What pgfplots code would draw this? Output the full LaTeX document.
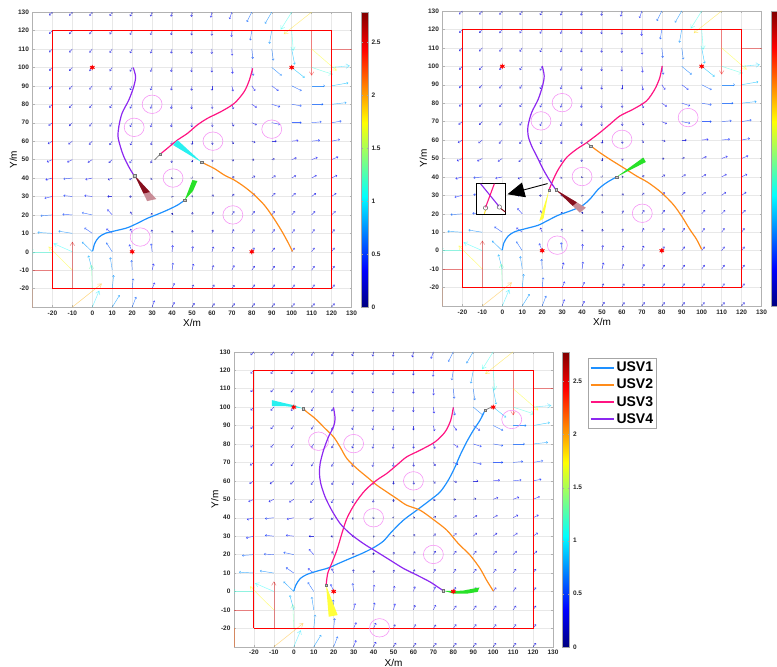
\documentclass[border=0pt]{standalone}
\usepackage{pgfplots}
\pgfplotsset{compat=1.18}
\usepackage{pgfplotstable}
\usepackage{fontspec}
\setmainfont{Liberation Sans}
\usetikzlibrary{arrows.meta}

\definecolor{usvA}{RGB}{30,144,255}
\definecolor{usvB}{RGB}{255,140,26}
\definecolor{usvC}{RGB}{255,20,130}
\definecolor{usvD}{RGB}{140,40,240}
\definecolor{obst}{RGB}{245,150,245}
\definecolor{fanred}{RGB}{135,15,30}
\definecolor{fanredl}{RGB}{200,140,150}
\definecolor{fangreen}{RGB}{40,225,40}
\definecolor{fanyellow}{RGB}{255,255,60}
\definecolor{fancyan}{RGB}{40,240,240}

\newcommand{\tlfont}{\fontsize{6.5}{7}\selectfont\bfseries}
\newcommand{\lbfont}{\fontsize{8.5}{10}\selectfont\bfseries}

\pgfplotstableread{
x y u v c
-20 130 -1.7 -1.8 0.25
-10 130 -1.6 -1.9 0.25
0 130 -1.5 -2.0 0.25
10 130 -1.3 -2.1 0.25
20 130 -1.1 -2.3 0.25
30 130 -0.8 -2.4 0.25
40 130 -0.5 -2.5 0.26
50 130 -0.3 -2.6 0.26
60 130 -0.6 -3.0 0.31
70 130 -1.2 -3.8 0.40
80 130 -2.5 -5.4 0.60
90 130 -3.4 -6.3 0.72
-20 120 -1.7 -1.8 0.25
-10 120 -1.6 -1.9 0.25
0 120 -1.5 -2.0 0.25
10 120 -1.3 -2.1 0.25
20 120 -1.1 -2.3 0.25
30 120 -0.8 -2.4 0.25
40 120 -0.5 -2.5 0.26
50 120 -0.3 -2.6 0.26
60 120 -0.1 -2.8 0.28
70 120 -0.2 -3.5 0.35
80 120 -0.8 -5.4 0.55
90 120 -1.2 -7.2 0.73
-20 110 -1.7 -1.8 0.25
-10 110 -1.6 -1.9 0.25
0 110 -1.5 -2.0 0.25
10 110 -1.3 -2.1 0.25
20 110 -1.1 -2.3 0.25
30 110 -0.8 -2.4 0.25
40 110 -0.5 -2.5 0.26
50 110 -0.3 -2.6 0.26
60 110 -0.1 -2.7 0.27
70 110 0.1 -3.6 0.36
80 110 0.5 -5.4 0.54
90 110 0.8 -6.3 0.64
100 110 1.5 -8.5 0.86
-20 100 -1.7 -1.8 0.25
-10 100 -1.6 -1.9 0.25
0 100 -1.5 -2.0 0.25
10 100 -1.3 -2.1 0.25
20 100 -1.1 -2.3 0.25
30 100 -0.8 -2.4 0.25
40 100 -0.5 -2.5 0.26
50 100 -0.3 -2.6 0.26
60 100 -0.1 -2.7 0.27
70 100 0.4 -3.4 0.34
80 100 0.8 -4.5 0.46
90 100 5.0 -4.5 0.67
100 100 6.5 -5.6 0.86
-20 90 -1.7 -1.8 0.25
-10 90 -1.6 -1.9 0.25
0 90 -1.5 -2.0 0.25
10 90 -1.3 -2.1 0.25
20 90 -1.1 -2.3 0.25
30 90 -0.8 -2.4 0.25
40 90 -0.5 -2.5 0.26
50 90 -0.3 -2.6 0.26
60 90 0.0 -2.6 0.26
70 90 0.6 -3.0 0.31
80 90 1.7 -2.7 0.32
90 90 3.4 -2.7 0.43
100 90 5.0 -2.7 0.57
110 90 6.7 0.0 0.67
120 90 8.4 1.6 0.86
-20 80 -1.7 -1.8 0.25
-10 80 -1.6 -1.9 0.25
0 80 -1.5 -2.0 0.25
10 80 -1.3 -2.1 0.25
20 80 -1.1 -2.3 0.25
30 80 -0.8 -2.4 0.25
40 80 -0.5 -2.5 0.26
50 80 -0.3 -2.6 0.26
60 80 0.1 -2.5 0.25
70 80 0.8 -2.6 0.27
80 80 2.5 -1.8 0.31
90 80 4.2 -1.4 0.44
100 80 5.0 -0.9 0.51
110 80 5.9 0.0 0.59
120 80 7.5 0.9 0.76
-20 70 -2.0 -1.6 0.26
-10 70 -1.7 -1.8 0.25
0 70 -1.5 -2.0 0.25
10 70 -1.3 -2.1 0.25
20 70 -1.1 -2.3 0.25
30 70 -0.8 -2.4 0.25
40 70 -0.5 -2.4 0.25
50 70 -0.2 -2.4 0.24
60 70 0.2 -2.3 0.23
70 70 1.0 -2.0 0.22
80 70 2.5 -1.2 0.28
90 70 4.2 -0.9 0.43
100 70 5.0 0.0 0.50
110 70 5.0 0.5 0.50
120 70 5.0 0.9 0.51
-20 60 -2.3 -1.5 0.27
-10 60 -2.0 -1.7 0.26
0 60 -1.7 -1.9 0.25
10 60 -1.4 -2.1 0.25
20 60 -1.0 -2.2 0.24
30 60 -0.6 -2.2 0.23
40 60 -0.3 -2.1 0.21
50 60 0.0 -2.0 0.20
60 60 0.3 -2.0 0.20
70 60 1.0 -1.5 0.18
80 60 1.8 -0.8 0.20
90 60 2.5 0.0 0.25
100 60 3.4 0.4 0.34
110 60 4.2 0.5 0.42
120 60 4.2 0.9 0.43
-20 50 -2.8 -1.3 0.31
-10 50 -2.6 -1.4 0.30
0 50 -2.3 -1.6 0.28
10 50 -1.8 -1.8 0.25
20 50 -1.3 -2.0 0.24
30 50 -0.7 -2.0 0.21
40 50 -0.3 -1.8 0.18
50 50 0.0 -1.5 0.15
60 50 0.5 -1.2 0.13
70 50 1.0 -0.8 0.13
80 50 1.3 -0.2 0.13
90 50 1.5 0.5 0.16
100 50 2.5 1.0 0.27
110 50 3.0 1.2 0.32
120 50 3.4 1.5 0.37
-20 40 -3.5 -1.0 0.36
-10 40 -4.5 -0.5 0.45
0 40 -3.5 -0.8 0.36
10 40 -2.2 -1.0 0.24
20 40 -1.4 -1.0 0.17
30 40 -0.8 -0.9 0.12
40 40 -0.3 -0.6 0.07
50 40 0.2 -0.3 0.04
60 40 0.8 0.2 0.08
70 40 1.3 0.8 0.15
80 40 1.7 1.2 0.21
90 40 2.0 1.3 0.24
100 40 2.2 1.4 0.26
110 40 2.5 1.5 0.29
120 40 2.8 1.5 0.32
-20 30 -4.0 -1.0 0.41
-10 30 -4.5 0.5 0.45
0 30 -4.0 0.5 0.40
10 30 -2.5 0.0 0.25
20 30 -1.5 -0.2 0.15
30 30 -0.8 -0.2 0.08
40 30 -0.2 0.3 0.04
50 30 0.3 0.6 0.07
60 30 0.8 1.0 0.13
70 30 1.2 1.4 0.18
80 30 1.6 1.6 0.23
90 30 1.8 1.8 0.25
100 30 2.0 1.8 0.27
110 30 2.2 1.8 0.28
120 30 2.4 1.8 0.30
-20 20 -6.0 -0.5 0.60
-10 20 -5.0 0.3 0.50
0 20 -5.2 1.2 0.53
10 20 -2.5 3.0 0.39
20 20 -1.0 1.8 0.21
30 20 -0.5 1.0 0.11
40 20 0.0 1.2 0.12
50 20 0.3 1.5 0.15
60 20 0.8 1.8 0.20
70 20 1.2 2.0 0.23
80 20 1.5 2.0 0.25
90 20 1.6 2.0 0.26
100 20 1.7 2.0 0.26
110 20 1.8 2.0 0.27
120 20 2.0 2.0 0.28
-20 10 -7.5 0.5 0.75
-10 10 -7.0 1.2 0.71
0 10 -4.0 3.0 0.50
10 10 -3.0 2.5 0.39
20 10 -1.0 2.5 0.27
30 10 -0.2 2.0 0.20
40 10 0.2 1.5 0.15
50 10 0.3 1.8 0.18
60 10 0.6 2.0 0.21
70 10 1.0 2.2 0.24
80 10 1.3 2.2 0.26
90 10 1.5 2.2 0.27
100 10 1.5 2.2 0.27
110 10 1.5 2.2 0.27
120 10 1.5 2.2 0.27
0 0 -5.2 5.4 0.75
10 0 -3.0 5.0 0.58
20 0 -1.5 4.0 0.43
30 0 -0.5 4.5 0.45
40 0 0.3 3.6 0.36
50 0 0.5 3.0 0.30
60 0 0.8 2.8 0.29
70 0 1.0 2.7 0.29
80 0 1.3 2.3 0.26
90 0 1.5 2.2 0.27
100 0 1.5 2.2 0.27
110 0 1.5 2.2 0.27
120 0 1.5 2.2 0.27
0 -10 -2.0 8.0 0.82
10 -10 -1.0 7.0 0.71
20 -10 -0.3 5.5 0.55
30 -10 0.8 3.6 0.37
40 -10 0.5 4.0 0.40
50 -10 0.8 3.5 0.36
60 -10 0.8 2.7 0.28
70 -10 1.2 2.7 0.30
80 -10 1.5 2.3 0.27
90 -10 1.5 2.3 0.27
100 -10 1.5 2.3 0.27
110 -10 1.5 2.3 0.27
120 -10 1.5 2.3 0.27
10 -20 0.7 7.4 0.74
20 -20 0.5 5.5 0.55
30 -20 1.3 3.3 0.35
40 -20 1.2 3.0 0.32
50 -20 0.8 2.2 0.23
60 -20 1.2 2.2 0.25
70 -20 1.3 2.0 0.24
80 -20 1.5 2.2 0.27
90 -20 1.5 2.2 0.27
100 -20 1.5 2.2 0.27
110 -20 1.5 2.2 0.27
120 -20 1.5 2.2 0.27
10 -30 3.7 6.5 0.75
20 -30 2.0 5.6 0.59
30 -30 1.2 3.6 0.38
40 -30 1.2 2.7 0.30
50 -30 1.3 2.2 0.26
60 -30 1.3 2.0 0.24
70 -30 1.5 2.0 0.25
80 -30 1.5 2.0 0.25
90 -30 1.5 2.0 0.25
100 -30 1.5 2.0 0.25
110 -30 1.5 2.0 0.25
120 -30 1.5 2.0 0.25
}\fieldsmall

\pgfplotstableread{
x y u v c
100 130 -5.5 -9.5 1.10
110 130 -14.0 -12.0 1.84
100 120 0.8 -11.0 1.10
110 120 0.0 -24.5 2.45
110 110 12.6 -11.8 1.73
120 110 25.0 0.0 2.50
110 100 10.7 -3.8 1.14
120 100 9.2 0.9 0.92
-20 0 -11.5 0.0 1.15
-10 0 -9.5 4.5 1.05
-20 -10 -25.0 0.0 2.50
-10 -10 -12.0 12.8 1.75
-30 -20 0.0 -22.0 2.20
-10 -20 0.0 25.5 2.55
0 -20 -0.5 13.0 1.30
-10 -30 14.8 12.8 1.96
0 -30 3.5 9.0 0.97
}\fieldbig

\pgfplotsset{
  /pgf/number format/assume math mode=true,
  colorbar shift/.style={xshift=9.5pt},
  usvaxis/.style={
    scale only axis, width=319pt, height=295pt, anchor=south west,
    xmin=-30, xmax=130, ymin=-30, ymax=130,
    xtick={-20,-10,...,130}, ytick={-20,-10,...,130},
    grid=major, grid style={gray!18, line width=0.4pt},
    axis line style={gray!60}, tick style={gray!60, line width=0.4pt},
    tick align=inside, major tick length=2pt,
    ticklabel style={font=\tlfont, text=black!85},
    xlabel={X/m}, ylabel={Y/m},
    label style={font=\lbfont},
    every axis x label/.style={at={(axis description cs:0.5,-0.053)}, anchor=center},
    every axis y label/.style={at={(axis description cs:-0.06,0.5)}, anchor=center, rotate=90},
    colormap/jet, point meta min=0, point meta max=2.78,
    colorbar,
    colorbar style={
      scale only axis, width=7pt, height=295pt,
      at={(parent axis.north east)}, anchor=north west,
      ytick={0,0.5,1,1.5,2,2.5},
      yticklabel style={font=\tlfont, text=black!85},
      axis line style={gray!70}, tick style={gray!70}, major tick length=1.5pt,
    },
  },
  pathstyle/.style={line width=1.2pt, smooth},
}

\newcommand{\fieldlayers}{%
  \addplot[forget plot, quiver={u=\thisrow{u},v=\thisrow{v},colored}, point meta=\thisrow{c},
    -{Straight Barb[length=1.3pt,width=2.2pt]}, line width=0.45pt, opacity=0.7] table[x=x,y=y] \fieldsmall;
  \addplot[forget plot, quiver={u=\thisrow{u},v=\thisrow{v},colored}, point meta=\thisrow{c},
    -{Straight Barb[length=3.5pt,width=4.5pt]}, line width=0.55pt, opacity=0.45] table[x=x,y=y] \fieldbig;
  \addplot[forget plot, red, line width=1.1pt] coordinates {(-20,-20) (120,-20) (120,120) (-20,120) (-20,-20)};
}
\newcommand{\starlayer}{%
  \addplot[forget plot, only marks, red, mark=asterisk, mark size=2.6pt, line width=0.8pt] coordinates {(0,100) (100,100) (20,0) (80,0)};
  \addplot[forget plot, only marks, red, mark=*, mark size=1.5pt] coordinates {(0,100) (100,100) (20,0) (80,0)};
}
\newcommand{\obs}[2]{\draw[obst, line width=0.6pt] (axis cs:#1,#2) ellipse [x radius=5, y radius=5];}
\newcommand{\finalmarks}[1]{%
  \addplot[forget plot, only marks, mark=square*, mark size=1.2pt, mark options={fill=gray!45, draw=gray!90!black, line width=0.3pt}] coordinates {#1};
}

\begin{document}
\begin{tikzpicture}[x=1pt,y=1pt]
\useasboundingbox (0,0) rectangle (777,667);

% ---------------- top-left ----------------
\begin{axis}[usvaxis, at={(32.5pt,359.9pt)}]
  \fieldlayers
  \obs{30}{80}\obs{21}{67.5}\obs{40.5}{40}\obs{60.5}{60}\obs{90}{66.5}\obs{70.5}{20}\obs{24}{8}
  \starlayer
  \addplot[forget plot, usvA, pathstyle] coordinates {(0.2,0.4) (1.2,4.5) (3.2,7.8) (6.5,10) (11.6,11.4) (17.5,13) (22.5,15.4) (27.5,18.1) (32.6,20.3) (37.6,22.6) (42.7,25.3) (46.3,28)};
  \addplot[forget plot, usvB, pathstyle] coordinates {(100.4,0.2) (98,5.4) (94.7,11.8) (90.5,19) (86.3,25.3) (81.3,30.8) (76.2,35.3) (71.2,38.9) (66.2,41.6) (61.1,45.2) (54.9,48.5)};
  \addplot[forget plot, usvC, pathstyle] coordinates {(80.4,99.5) (78.8,93.2) (76.2,86.9) (71.2,80.5) (64.5,76) (57.8,72.4) (52.7,68.8) (47.7,64.2) (42.7,60.6) (37.6,56.1) (33.9,52.8)};
  \addplot[forget plot, usvD, pathstyle] coordinates {(20.5,99.9) (21.7,95) (20.8,89.6) (18.3,82.3) (14.9,75.1) (13.3,67.9) (12.9,62.4) (14.1,57) (15.8,51.6) (18.3,46.1) (20.8,41.6) (21.3,41.3)};
  \addplot[forget plot, gray, line width=0.8pt] coordinates {(33.9,52.8) (31.2,49.8)};
  \addplot[forget plot, fill=fanredl, draw=none] coordinates {(21.3,41.3) (27.5,27.5) (32.1,28.6)} -- cycle;
  \addplot[forget plot, fill=fanred, draw=none] coordinates {(21.3,41.3) (25.7,31.6) (28.9,32.4)} -- cycle;
  \addplot[forget plot, fill=fancyan, draw=none] coordinates {(54.9,48.5) (42.7,60.6) (40.5,57.9)} -- cycle;
  \addplot[forget plot, fill=fangreen, draw=none] coordinates {(46.3,28) (48.3,33.5) (50.2,38.9) (52.7,38.4) (50.5,33)} -- cycle;
  \finalmarks{(46.3,28) (54.9,48.5) (33.9,52.8) (21.3,41.3)}
\end{axis}

% ---------------- top-right ----------------
\begin{axis}[usvaxis, at={(442.5pt,361pt)}, colorbar style={ytick=\empty}]
  \fieldlayers
  \obs{30}{80.3}\obs{19.4}{70.4}\obs{40}{40.2}\obs{60}{60.4}\obs{93.2}{72.2}\obs{70.2}{20.3}\obs{27.6}{3}
  \starlayer
  \addplot[forget plot, usvA, pathstyle] coordinates {(0,0.4) (0.8,4.3) (3,8) (6.3,10.3) (12.2,12.1) (18,13.8) (23,16.5) (28,19.2) (33.9,21.5) (39.8,24.2) (43.9,27.9) (48.1,33.3) (52.3,36.9) (57.3,40)};
  \addplot[forget plot, usvB, pathstyle] coordinates {(100,0.7) (97.4,6.2) (94,11.6) (89.9,18.8) (85.7,25.1) (79.8,31.5) (73.2,36.9) (67.3,40.5) (60.6,45.1) (53.9,49.6) (48.9,53.2) (44.4,56.8)};
  \addplot[forget plot, usvC, pathstyle] coordinates {(80.2,100.2) (79,93.9) (76.5,87.6) (72.3,81.2) (65.6,76.7) (59,73.1) (54,68.6) (48.9,64) (42.3,58.6) (37.2,55) (32.2,50.5) (28.1,44.1) (25.6,38.7) (23.4,32.9)};
  \addplot[forget plot, usvD, pathstyle] coordinates {(20,100.2) (21,94.8) (20.2,89.4) (18,82.1) (14.7,74.9) (12.9,67.7) (13,62.2) (14.7,56.8) (17.2,51.4) (20.5,44.1) (23.9,37.8) (26.9,33)};
  \addplot[forget plot, gray, line width=0.8pt] coordinates {(44.4,56.8) (42.3,58.6)};
  \addplot[forget plot, fill=fanredl, draw=none] coordinates {(26.9,33) (38.9,20.6) (41.9,23.3)} -- cycle;
  \addplot[forget plot, fill=fanred, draw=none] coordinates {(26.9,33) (35.3,24.3) (37.4,26.2)} -- cycle;
  \addplot[forget plot, fill=fanyellow, draw=none] coordinates {(23.4,32.9) (18.5,16) (20.7,17.5)} -- cycle;
  \addplot[forget plot, fill=fangreen, draw=none] coordinates {(57.3,40) (70.7,50.5) (72,48.1)} -- cycle;
  \finalmarks{(57.3,40) (44.4,56.8) (23.4,32.9) (26.9,33)}
  % inset
  \draw[black, line width=0.9pt, fill=white] (axis cs:-13.2,19.7) rectangle (axis cs:1.8,36.5);
  \addplot[forget plot, usvD, line width=1.1pt] coordinates {(-10.9,36.3) (-1.8,24.2)};
  \addplot[forget plot, usvC, line width=1.1pt] coordinates {(-4,36.3) (-8.4,23.5)};
  \addplot[forget plot, fanyellow!80!orange, line width=1pt] coordinates {(-8.4,22.2) (-9,20)};
  \addplot[forget plot, fanred, line width=1pt] coordinates {(-0.7,22.8) (1.5,21)};
  \draw[gray!80!black, line width=0.5pt] (axis cs:-8.4,23.2) ellipse [x radius=1.1, y radius=1.2];
  \draw[gray!80!black, line width=0.5pt] (axis cs:-1.5,23.7) ellipse [x radius=1.1, y radius=1.2];
  \draw[black, line width=0.9pt, -{Triangle[length=17pt,width=15pt]}] (axis cs:22.7,36.4) -- (axis cs:2.6,30.6);
\end{axis}

% ---------------- bottom ----------------
\begin{axis}[usvaxis, at={(234pt,20.2pt)},
  legend style={at={(1,1)}, anchor=north west, xshift=34.7pt, yshift=-6.3pt, draw=gray!70, line width=0.6pt,
    font=\fontsize{14}{15}\selectfont\bfseries, inner sep=1.5pt, row sep=2pt},
  legend cell align=left,
  legend image code/.code={\draw[line width=2pt, #1] (0pt,0pt) -- (23pt,0pt);}]
  \fieldlayers
  \obs{12.4}{81.5}\obs{30}{80.2}\obs{40}{40}\obs{60}{60}\obs{70}{20.1}\obs{109.3}{93.3}\obs{43}{-19.7}
  \starlayer
  \addplot[forget plot, usvA, pathstyle] coordinates {(0,0.2) (1,3.4) (3.2,7) (6.5,9.2) (11.5,11) (17.4,12.8) (22.4,15.2) (28.2,17.9) (34.1,20.6) (39.9,23.7) (44.9,27.3) (49.1,32.4) (55,38.7) (61.7,44.1) (68.3,49.5) (73.4,54) (77.5,60.4) (80.9,67.6) (83.4,73.9) (86.7,81.1) (90.1,87.5) (93.4,92.9) (95.9,98.3)};
  \addplot[forget plot, usvB, pathstyle] coordinates {(100.1,0.2) (96.7,6.1) (93.4,12.5) (88.4,19.7) (82.5,26) (76.7,33.3) (70,39) (63.3,44.1) (56.6,46.8) (51.6,50.4) (46.6,54) (41.6,57.7) (36.6,62.2) (31.6,66.7) (26.6,72.1) (23.2,78.4) (19.9,83.9) (15.7,88.4) (10.7,93.8) (6.5,97.4) (4.8,99.2)};
  \addplot[forget plot, usvC, pathstyle] coordinates {(80,99.8) (78.7,92.9) (75.9,86.6) (70.8,81.1) (63.3,76.6) (56.6,73) (51.6,68.5) (46.6,64) (41.6,60.4) (35.8,54.9) (30.7,47.7) (26.6,39.6) (24.1,31.4) (21.6,22.4) (19,15.2) (17,9.8) (16.2,3.3)};
  \addplot[forget plot, usvD, pathstyle] coordinates {(19.9,99.8) (20.7,93.8) (19.9,89.3) (17.4,83.9) (14.9,76.6) (13.2,69.4) (12.9,64) (13.5,58.6) (15.7,51.3) (19,44.1) (23.2,36.9) (28.2,31.4) (34.9,26) (41.6,21.5) (48.3,17) (55,12.5) (61.7,8.9) (68.3,5.2) (72.5,2.2) (75,0.4)};
  \addplot[forget plot, gray, line width=0.8pt] coordinates {(95.9,98.3) (100,100.5)};
  \addplot[forget plot, fill=fancyan, draw=none] coordinates {(4.8,99.2) (0,101) (-6,102.5) (-11,103.8) (-11,100.5) (-5,100.6) (0,100)} -- cycle;
  \addplot[forget plot, fill=fanyellow, draw=none] coordinates {(16.2,3.3) (17.5,-13.7) (22,-12.8)} -- cycle;
  \addplot[forget plot, fill=fangreen, draw=none] coordinates {(75,0.4) (80,-1.1) (86.7,-1.2) (92.2,-0.2) (93.1,2.2) (85,0.5) (80,0.2)} -- cycle;
  \finalmarks{(95.9,98.3) (4.8,99.2) (16.2,3.3) (75,0.4)}
  \addlegendimage{color=usvA}
  \addlegendentry{USV1}
  \addlegendimage{color=usvB}
  \addlegendentry{USV2}
  \addlegendimage{color=usvC}
  \addlegendentry{USV3}
  \addlegendimage{color=usvD}
  \addlegendentry{USV4}
\end{axis}
\end{tikzpicture}
\end{document}
